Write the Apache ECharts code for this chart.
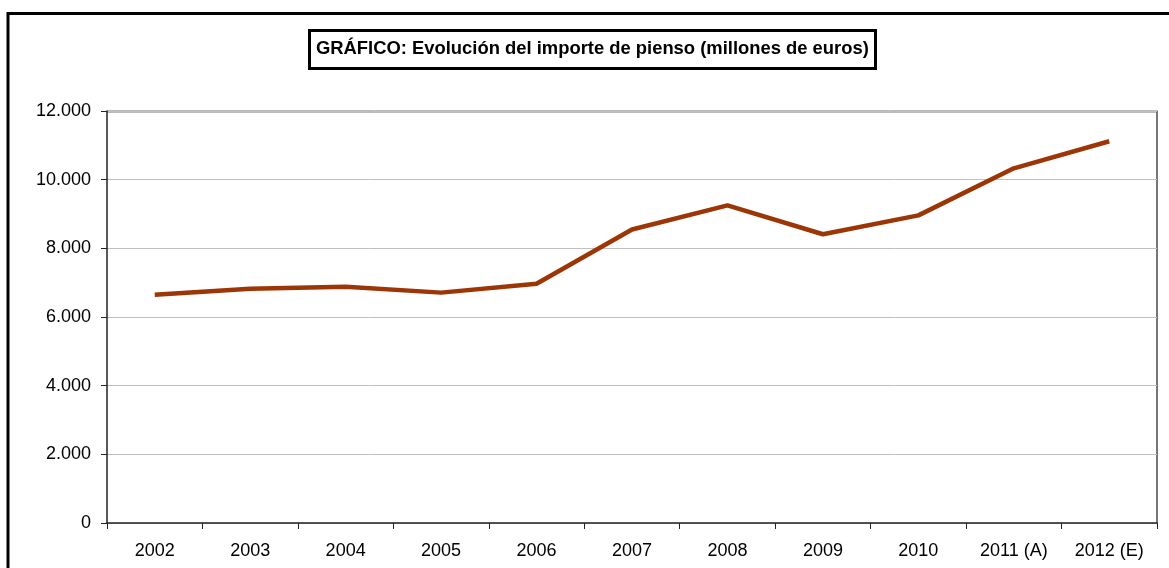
<!DOCTYPE html>
<html lang="es" style="height: 100%">
<head>
  <meta charset="utf-8">
</head>
<body style="height: 100%; margin: 0; background: #fff">
  <div id="container" style="width:1169px; height:568px"></div>

  <script type="text/javascript" src="https://fastly.jsdelivr.net/npm/echarts@6/dist/echarts.min.js"></script>
  <script type="text/javascript">
    var years = ['2002', '2003', '2004', '2005', '2006', '2007', '2008', '2009', '2010', '2011 (A)', '2012 (E)'];
    var importe = [6650, 6820, 6880, 6710, 6970, 8550, 9250, 8410, 8960, 10330, 11120];

    var dom = document.getElementById('container');
    var myChart = echarts.init(dom, null, { renderer: 'canvas' });

    var font = 'Arial, "Liberation Sans", sans-serif';

    var option = {
      animation: false,
      title: {
        text: 'GRÁFICO: Evolución del importe de pienso (millones de euros)',
        left: 309,
        top: 30,
        padding: [10, 7, 11, 7],
        borderColor: '#000',
        borderWidth: 3,
        textStyle: { fontFamily: font, fontSize: 18.4, fontWeight: 'bold', color: '#000' }
      },
      graphic: [
        {
          type: 'polyline',
          shape: { points: [[8, 570], [8, 13.5], [1172, 13.5]] },
          style: { stroke: '#000', lineWidth: 3, fill: null }
        },
        {
          type: 'polyline',
          shape: { points: [[107, 111.5], [1157, 111.5], [1157, 523]] },
          style: { stroke: '#777', lineWidth: 2, fill: null }
        }
      ],
      grid: { left: 107, right: 12, top: 111, bottom: 45 },
      xAxis: {
        type: 'category',
        data: years,
        boundaryGap: true,
        axisLine: { lineStyle: { color: '#222', width: 1.5 } },
        axisTick: { show: true, length: 6, inside: false, lineStyle: { color: '#222' } },
        axisLabel: { fontFamily: font, fontSize: 18, color: '#000', margin: 19 },
        splitLine: { show: false }
      },
      yAxis: {
        type: 'value',
        min: 0,
        max: 12000,
        interval: 2000,
        axisLine: { show: true, lineStyle: { color: '#222', width: 1.5 } },
        axisTick: { show: true, length: 6, lineStyle: { color: '#222' } },
        axisLabel: {
          fontFamily: font, fontSize: 18, color: '#000', margin: 16,
          formatter: function (v) { return v === 0 ? '0' : v.toLocaleString('de-DE'); }
        },
        splitLine: { lineStyle: { color: '#c0c0c0', width: 1 } }
      },
      series: [{
        type: 'line',
        data: importe,
        symbol: 'none',
        lineStyle: { color: '#9c3606', width: 4.5 }
      }]
    };

    myChart.setOption(option);
    window.addEventListener('resize', myChart.resize);
  </script>
</body>
</html>
